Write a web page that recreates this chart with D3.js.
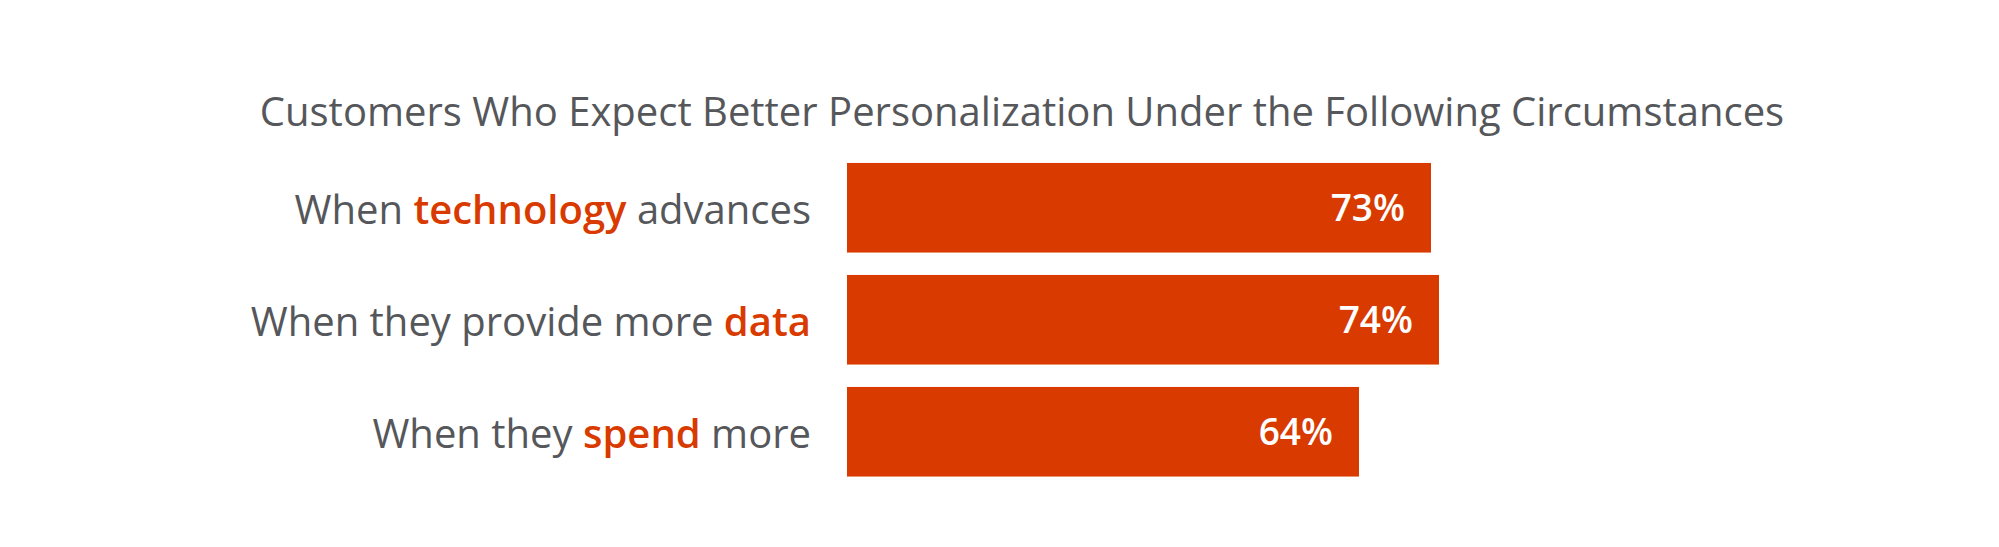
<!DOCTYPE html>
<html>
<head>
<meta charset="utf-8">
<script src="https://cdn.jsdelivr.net/npm/d3@7"></script>
<style>
  html, body { margin: 0; padding: 0; background: #ffffff; }
  svg { display: block; }
</style>
</head>
<body>
<svg id="chart" width="1999" height="547"></svg>
<script>
const title = "Customers Who Expect Better Personalization Under the Following Circumstances";
const catBefore = ["When ", "When they provide more ", "When they "];
const catHighlight = ["technology", "data", "spend"];
const catAfter = [" advances", "", " more"];
const values = [73, 74, 64];
const valueLabels = ["73%", "74%", "64%"];

const orange = "#d83a00";
const gray = "#55575b";
const font = "'Open Sans', 'Noto Sans', sans-serif";

const svg = d3.select("#chart");
const rows = values.map((v, i) => ({ i, v, label: valueLabels[i] }));

const x = d3.scaleLinear().domain([0, 100]).range([847, 1647]);
const y = d3.scaleBand().domain(d3.range(values.length))
  .range([151.75, 487.75]).paddingInner(0.2).paddingOuter(0.1);

svg.append("text")
  .attr("x", 1022).attr("y", 126)
  .attr("text-anchor", "middle")
  .attr("font-family", font).attr("font-size", 40)
  .attr("fill", gray)
  .text(title);

svg.selectAll("rect.bar").data(rows).enter().append("rect")
  .attr("class", "bar")
  .attr("x", x(0))
  .attr("y", d => y(d.i))
  .attr("width", d => x(d.v) - x(0))
  .attr("height", y.bandwidth())
  .attr("fill", orange);

svg.selectAll("text.val").data(rows).enter().append("text")
  .attr("class", "val")
  .attr("x", d => x(d.v) - 26)
  .attr("y", d => y(d.i) + y.bandwidth() / 2 + 13)
  .attr("text-anchor", "end")
  .attr("font-family", font).attr("font-weight", 600).attr("font-size", 37)
  .attr("fill", "#ffffff")
  .text(d => d.label);

const lab = svg.selectAll("text.cat").data(rows).enter().append("text")
  .attr("class", "cat")
  .attr("x", x(0) - 36)
  .attr("y", d => y(d.i) + y.bandwidth() / 2 + 16)
  .attr("text-anchor", "end")
  .attr("font-family", font).attr("font-size", 40)
  .attr("fill", gray)
  .style("white-space", "pre");
lab.append("tspan").text(d => catBefore[d.i]);
lab.append("tspan").text(d => catHighlight[d.i]).attr("fill", orange).attr("font-weight", 600);
lab.append("tspan").text(d => catAfter[d.i]);
</script>
</body>
</html>
